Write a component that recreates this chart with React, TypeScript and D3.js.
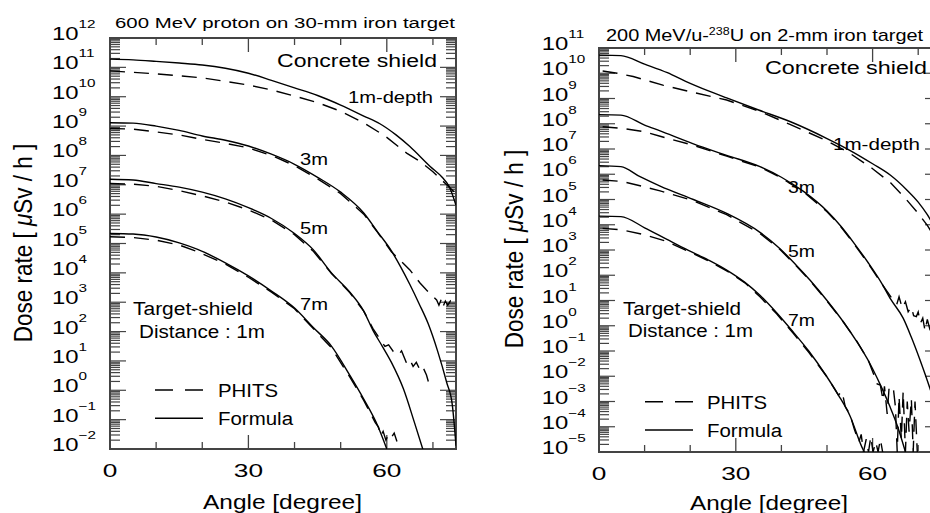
import React from 'react';
import * as d3 from 'd3';

type P = [number, number];

// ---------------- Left panel: 600 MeV proton on 30-mm iron target ----------------
const L_F_1M: P[] = [[0,1.9e11],[5,1.8e11],[10,1.6e11],[15,1.4e11],[20,1.2e11],[25,9.3e10],[30,6.3e10],[35,3.6e10],[40,2.0e10],[45,1.1e10],[50,5.2e9],[55,2.2e9],[58.5,1.2e9],[62,5.0e8],[65,2.0e8],[69.4,4.2e7],[72,1.8e7],[73.5,8.9e6],[75,2.0e6]];
const L_P_1M: P[] = [[0,7.6e10],[10,6.0e10],[20,4.4e10],[30,2.5e10],[35,1.7e10],[40,1.05e10],[45,6.3e9],[50,3.2e9],[55,1.3e9],[59.6,4.6e8],[64.3,1.2e8],[67.2,6.2e7],[70,2.8e7],[72,1.4e7],[73,1.0e7],[75,5.0e6]];
const L_F_3M: P[] = [[0,1.3e9],[5,1.26e9],[10,1.0e9],[15,7.1e8],[20,4.6e8],[25,3.3e8],[30,2.1e8],[35,1.1e8],[40,5.0e7],[45,1.8e7],[50,5.6e6],[55,1.1e6],[58,2.5e5],[61,5.6e4],[63,1.6e4],[65,4.0e3],[67,8.9e2],[69,1.8e2],[71,22],[73,1.8],[74.2,0.32],[75,0.013]];
const L_P_3M: P[] = [[0,8.3e8],[5,7.9e8],[10,6.3e8],[15,5.0e8],[20,3.5e8],[25,2.6e8],[30,1.8e8],[35,1.0e8],[40,4.5e7],[45,1.6e7],[50,5.0e6],[55,1.0e6],[58,2.4e5],[61,5.2e4],[63.6,2.1e4],[65,1.26e4],[67.2,4.5e3],[68.6,2.6e3],[70,1.6e3],[70.8,1.2e3],[71.3,7.9e2],[71.8,1.26e3],[72.2,7.1e2],[72.7,1.1e3],[73.2,7.9e2],[73.8,1.1e3],[74.3,8.9e2],[75,1.0e3]];
const L_F_5M: P[] = [[0,1.55e7],[5,1.45e7],[10,1.1e7],[15,8.3e6],[20,5.6e6],[25,3.3e6],[30,1.66e6],[35,7.1e5],[40,2.2e5],[44,6.3e4],[48,1.0e4],[52,2.2e3],[55,5.0e2],[57,1.1e2],[59,32],[61,8.9],[63.6,1.12],[66,0.079],[68,0.0079]];
const L_P_5M: P[] = [[0,1.1e7],[5,1.05e7],[10,8.9e6],[15,6.3e6],[20,4.2e6],[25,2.6e6],[30,1.4e6],[35,6.3e5],[40,2.0e5],[44,5.6e4],[48,9.5e3],[52,2.1e3],[55,5.0e2],[57,1.26e2],[58.5,56],[59.6,31],[60.4,35],[61.4,21],[62.5,16],[63.2,22],[64.3,8.3],[65,11],[65.7,6.5],[66.4,8.9],[67.2,4.9],[67.8,6.3],[68.6,3.3],[69,2.0]];
const L_F_7M: P[] = [[0,2.2e5],[5,2.1e5],[10,1.66e5],[15,1.05e5],[19,6.3e4],[25,2.2e4],[30,7.9e3],[35,2.4e3],[40,6.3e2],[44,1.4e2],[48,32],[52,3.2],[55,0.5],[58,0.063],[60,0.01]];
const L_P_7M: P[] = [[0,1.7e5],[5,1.6e5],[10,1.3e5],[15,8.9e4],[19,5.2e4],[25,2.0e4],[30,7.1e3],[35,2.2e3],[40,6.0e2],[44,1.3e2],[48,28],[52,2.8],[55,0.45],[56.5,0.16],[57.5,0.079],[58.2,0.056],[58.7,0.028],[59.2,0.04],[59.8,0.02],[60.4,0.032],[61,0.025],[61.6,0.035],[62.2,0.018]];

// ---------------- Right panel: 200 MeV/u-238U on 2-mm iron target ----------------
const R_F_1M: P[] = [[0,5.2e10],[4.8,5.0e10],[10,2.3e10],[15,1.05e10],[19,4.8e9],[24,2.0e9],[28,1.05e9],[35,3.5e8],[42,1.2e8],[50,2.6e7],[55,8.9e6],[60,2.6e6],[64,8.9e5],[67.5,2.4e5],[70,7.9e4],[72,2.5e4],[75,2.5e3]];
const R_P_1M: P[] = [[0.8,1.23e10],[4,1.0e10],[7.5,7.4e9],[14,3.4e9],[20,1.86e9],[28,8.7e8],[35,3.2e8],[42,9.3e7],[50,2.1e7],[55,6.8e6],[60,1.66e6],[64,4.5e5],[67.5,9.5e4],[70,2.8e4],[72,9.5e3],[75,1.26e3]];
const R_F_3M: P[] = [[0,2.3e8],[4.8,2.2e8],[10,8.9e7],[13.4,5.2e7],[20.7,1.6e7],[28,5.6e6],[35.3,2.0e6],[40,7.6e5],[45,2.0e5],[50,3.5e4],[53,8.9e3],[56,1.8e3],[59,3.2e2],[62,48],[64,11],[66.7,2.0],[68.5,0.35],[70.4,0.044],[72.6,0.0032],[75,1.26e-4]];
const R_P_3M: P[] = [[0.8,7.6e7],[5,6.6e7],[10,4.8e7],[13.4,3.2e7],[20.7,1.4e7],[28,5.2e6],[35.3,1.9e6],[40,7.2e5],[45,1.9e5],[50,3.3e4],[53,8.5e3],[56,1.66e3],[59,3.0e2],[62,46],[64.5,10.5],[65.3,7.1],[65.8,14],[66.5,5.0],[67.2,8.9],[67.8,3.6],[68.5,5.6],[69,2.5],[69.6,2.3],[70,3.5],[70.5,1.26],[71,2.0],[71.5,0.63],[72,1.8],[72.5,0.79],[73,1.6],[74,0.71],[75,1.26]];
const R_F_5M: P[] = [[0,2.2e6],[4.8,2.0e6],[9,8.0e5],[13.4,3.4e5],[20.7,1.0e5],[28,2.8e4],[35.3,5.0e3],[39.7,1.12e3],[43,2.8e2],[46.3,63],[50,10],[53.6,1.41],[56.5,0.24],[59.4,0.032],[61.6,5.0e-3],[63.8,6.3e-4],[65.5,1.0e-4],[67.2,1.0e-5]];
const R_P_5M: P[] = [[0.8,5.9e5],[5,5.2e5],[9,3.5e5],[13.4,2.2e5],[20.7,8.9e4],[28,2.5e4],[35.3,4.5e3],[39.7,1.05e3],[43,2.6e2],[46.3,60],[50,9.5],[53.6,1.41],[56.5,0.25],[59,0.045],[60.4,0.01],[61,5.0e-3],[61.7,4.5e-3],[62.3,1.1e-3],[62.6,4.0e-3],[63.2,3.2e-4],[63.6,3.2e-3],[64.5,4.0e-3],[65,6.3e-4],[65.4,1e-5],[65.8,1.6e-3],[66.3,3.2e-5],[66.7,2.5e-3],[67.2,1e-5],[67.6,1.0e-3],[68,6.3e-5],[68.5,1.26e-3],[68.9,1e-5],[69.3,1.0e-3],[69.8,1e-5]];
const R_F_7M: P[] = [[0,2.2e4],[4.8,2.1e4],[10,7.6e3],[14.8,2.7e3],[19.2,1.05e3],[24,4.0e2],[28,1.6e2],[32,52],[35.3,16],[39,3.2],[42.6,0.56],[46,0.1],[49.9,0.01],[52.5,1.8e-3],[55,2.8e-4],[57.9,1.26e-5],[58.2,1e-5]];
const R_P_7M: P[] = [[0.8,7.2e3],[5,6.3e3],[10,4.0e3],[14.8,2.2e3],[19.2,9.5e2],[24,3.7e2],[28,1.5e2],[32,50],[35.3,14],[39,2.9],[42.6,0.5],[46,0.089],[49.9,0.01],[52.5,1.8e-3],[53.3,2.5e-3],[54,6.3e-4],[55,3.2e-4],[56,7.9e-5],[57,2.5e-5],[57.5,5.0e-5],[58,1e-5],[58.6,3.2e-5],[59.1,1e-5],[59.6,4.0e-5],[60.1,1e-5],[60.7,2.5e-5],[61.2,1e-5],[61.7,3.2e-5],[62.2,1e-5]];

const X_TICKS = [0, 10, 20, 30, 40, 50, 60, 70];
const X_LABELS = [0, 30, 60];
const L_EXP = [-2, 12];
const R_EXP = [-5, 11];

const FONT = "'Liberation Sans', Arial, Helvetica, sans-serif";

type Lbl = { t: string; x: number; y: number; w: number; s: number };

type Cfg = {
  id: string;
  x0: number; x1: number; y0: number; y1: number;
  exp: number[];
  formula: P[][];
  phits: P[][];
  labels: Lbl[];
  tickX: number;
  title: React.ReactNode;
  yLabel: { x: number; y: number };
  xLabel: { x: number; y: number; w: number };
  xTickY: number;
  legend: { x0: number; x1: number; yd: number; ys: number; tx: number };
};

function sup(e: number) {
  return e < 0 ? '\u2212' + Math.abs(e) : String(e);
}

function Panel({ c }: { c: Cfg }) {
  const x = d3.scaleLinear().domain([0, 75]).range([c.x0, c.x1]);
  const y = d3.scaleLog().domain([Math.pow(10, c.exp[0]), Math.pow(10, c.exp[1])]).range([c.y1, c.y0]);
  const smooth = d3.line<P>().x(d => x(d[0])).y(d => y(d[1])).curve(d3.curveMonotoneX);
  const lin = d3.line<P>().x(d => x(d[0])).y(d => y(d[1]));
  const majors = d3.range(c.exp[0], c.exp[1] + 1);
  const minors: number[] = [];
  for (let e = c.exp[0]; e < c.exp[1]; e++) for (let k = 2; k <= 9; k++) minors.push(k * Math.pow(10, e));
  const tc = '#444';
  return (
    <g>
      <defs>
        <clipPath id={c.id}>
          <rect x={c.x0} y={c.y0} width={c.x1 - c.x0} height={c.y1 - c.y0} />
        </clipPath>
      </defs>
      {minors.map((v, i) => (
        <g key={'mn' + i} stroke={tc} strokeWidth={1.2}>
          <line x1={c.x0} x2={c.x0 + 10} y1={y(v)} y2={y(v)} />
          <line x1={c.x1} x2={c.x1 - 10} y1={y(v)} y2={y(v)} />
        </g>
      ))}
      {majors.map(e => (
        <g key={'mj' + e} stroke={tc} strokeWidth={1.2}>
          <line x1={c.x0} x2={c.x0 + 16} y1={y(Math.pow(10, e))} y2={y(Math.pow(10, e))} />
          <line x1={c.x1} x2={c.x1 - 16} y1={y(Math.pow(10, e))} y2={y(Math.pow(10, e))} />
        </g>
      ))}
      {X_TICKS.map(t => {
        const len = t % 30 === 0 ? 14 : 7;
        return (
          <g key={'xt' + t} stroke={tc} strokeWidth={1.3}>
            <line x1={x(t)} x2={x(t)} y1={c.y1} y2={c.y1 - len} />
            <line x1={x(t)} x2={x(t)} y1={c.y0} y2={c.y0 + len} />
          </g>
        );
      })}
      <rect x={c.x0} y={c.y0} width={c.x1 - c.x0} height={c.y1 - c.y0} fill="none" stroke={tc} strokeWidth={2} />
      <g clipPath={`url(#${c.id})`} fill="none" stroke="#000" strokeWidth={1.4}>
        {c.formula.map((s, i) => <path key={'f' + i} d={smooth(s) || ''} />)}
        {c.phits.map((s, i) => <path key={'p' + i} d={lin(s) || ''} strokeDasharray="15,9" />)}
      </g>
      {majors.map(e => (
        <text key={'yl' + e} transform={`translate(${c.tickX},${y(Math.pow(10, e)) + 2}) scale(1.33,1)`} fontSize={18} fontFamily={FONT} fill="#000">
          10<tspan fontSize={11.5} dy={-12}>{sup(e)}</tspan>
        </text>
      ))}
      {X_LABELS.map(t => (
        <text key={'xl' + t} transform={`translate(${x(t)},${c.xTickY}) scale(1.42,1)`} textAnchor="middle" fontSize={18.5} fontFamily={FONT} fill="#000">
          {t}
        </text>
      ))}
      {c.labels.map((l, i) => (
        <text key={'lb' + i} x={l.x} y={l.y} fontSize={l.s} fontFamily={FONT} textLength={l.w} lengthAdjust="spacingAndGlyphs" fill="#000">
          {l.t}
        </text>
      ))}
      <line x1={c.legend.x0} x2={c.legend.x1} y1={c.legend.yd} y2={c.legend.yd} stroke="#000" strokeWidth={1.4} strokeDasharray="18,12" />
      <line x1={c.legend.x0} x2={c.legend.x1} y1={c.legend.ys} y2={c.legend.ys} stroke="#000" strokeWidth={1.4} />
      <text x={c.legend.tx} y={c.legend.yd + 7} fontSize={18} fontFamily={FONT} textLength={60} lengthAdjust="spacingAndGlyphs" fill="#000">PHITS</text>
      <text x={c.legend.tx} y={c.legend.ys + 7} fontSize={18} fontFamily={FONT} textLength={75} lengthAdjust="spacingAndGlyphs" fill="#000">Formula</text>
      <text transform={`translate(${c.yLabel.x},${c.yLabel.y}) scale(1.12,1) rotate(-90)`} textAnchor="middle" fontSize={22.5} fontFamily={FONT} fill="#000">
        Dose rate [ <tspan fontStyle="italic">μ</tspan>Sv / h ]
      </text>
      <text x={c.xLabel.x} y={c.xLabel.y} fontSize={21} fontFamily={FONT} textLength={c.xLabel.w} lengthAdjust="spacingAndGlyphs" fill="#000">
        Angle [degree]
      </text>
      {c.title}
    </g>
  );
}

const leftCfg: Cfg = {
  id: 'clipL', x0: 110, x1: 456, y0: 38, y1: 449, exp: L_EXP,
  formula: [L_F_1M, L_F_3M, L_F_5M, L_F_7M],
  phits: [L_P_1M, L_P_3M, L_P_5M, L_P_7M],
  labels: [
    { t: 'Concrete shield', x: 277, y: 66.5, w: 160, s: 18 },
    { t: '1m-depth', x: 348, y: 103, w: 85, s: 17 },
    { t: '3m', x: 300, y: 165, w: 28, s: 17 },
    { t: '5m', x: 300, y: 233.5, w: 28, s: 17 },
    { t: '7m', x: 300, y: 310, w: 28, s: 17 },
    { t: 'Target-shield', x: 133, y: 315, w: 120, s: 18 },
    { t: 'Distance : 1m', x: 139, y: 338, w: 126, s: 18 },
  ],
  tickX: 52,
  title: (
    <text transform="translate(115,28) scale(1.316,1)" fontSize={15.5} fontFamily={FONT} fill="#000">
      600 MeV proton on 30-mm iron target
    </text>
  ),
  yLabel: { x: 31.5, y: 243 },
  xLabel: { x: 203, y: 509, w: 159 },
  xTickY: 477,
  legend: { x0: 155, x1: 203, yd: 390, ys: 418.3, tx: 218 },
};

const rightCfg: Cfg = {
  id: 'clipR', x0: 599, x1: 941, y0: 48, y1: 452, exp: R_EXP,
  formula: [R_F_1M, R_F_3M, R_F_5M, R_F_7M],
  phits: [R_P_1M, R_P_3M, R_P_5M, R_P_7M],
  labels: [
    { t: 'Concrete shield', x: 765, y: 74, w: 162, s: 18 },
    { t: '1m-depth', x: 833, y: 150, w: 87, s: 17 },
    { t: '3m', x: 788, y: 193, w: 27, s: 17 },
    { t: '5m', x: 788, y: 257, w: 27, s: 17 },
    { t: '7m', x: 788, y: 326, w: 27, s: 17 },
    { t: 'Target-shield', x: 623, y: 315, w: 118, s: 18 },
    { t: 'Distance : 1m', x: 628, y: 337, w: 125, s: 18 },
  ],
  tickX: 541.7,
  title: (
    <text transform="translate(606,41) scale(1.245,1)" fontSize={16} fontFamily={FONT} fill="#000">
      200 MeV/u-<tspan fontSize={10} dy={-6}>238</tspan><tspan dy={6}>U on 2-mm iron target</tspan>
    </text>
  ),
  yLabel: { x: 523, y: 249 },
  xLabel: { x: 690, y: 510, w: 158 },
  xTickY: 480,
  legend: { x0: 645, x1: 693, yd: 401.7, ys: 430, tx: 707 },
};

export default function App() {
  return (
    <svg width={930} height={513} style={{ position: 'absolute', left: 0, top: 0, background: '#fff' }}>
      <rect x={0} y={0} width={930} height={513} fill="#fff" />
      <Panel c={leftCfg} />
      <Panel c={rightCfg} />
    </svg>
  );
}
